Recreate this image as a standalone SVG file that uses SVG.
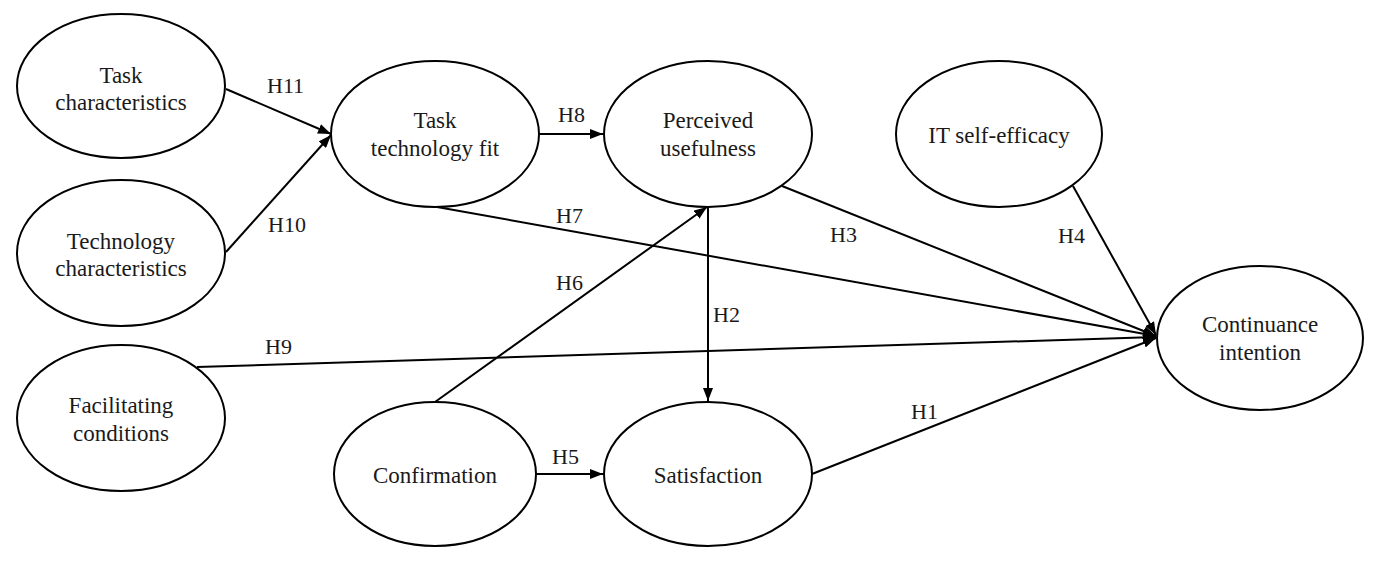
<svg xmlns="http://www.w3.org/2000/svg" width="1375" height="562" viewBox="0 0 1375 562">
<defs>
<marker id="arr" markerUnits="userSpaceOnUse" markerWidth="14" markerHeight="10" refX="13" refY="5" orient="auto">
<path d="M0,0 L13,5 L0,10 z" fill="#000"/>
</marker>
<style>
.n ellipse{fill:none;stroke:#000;stroke-width:2}
.n text{font-family:"Liberation Serif","Times New Roman",serif;font-size:23px;fill:#1a1a1a;text-anchor:middle}
.lbl{font-family:"Liberation Serif","Times New Roman",serif;font-size:22px;fill:#1a1a1a}
#edges line{stroke:#000;stroke-width:2;fill:none}
.a{marker-end:url(#arr)}
</style>
</defs>
<rect width="1375" height="562" fill="#fff"/>
<g id="edges">
<line class="a" x1="226" y1="89" x2="331" y2="134"/>
<line class="a" x1="226" y1="252" x2="331" y2="135"/>
<line class="a" x1="539" y1="134" x2="603" y2="134"/>
<line class="a" x1="437" y1="207" x2="1156" y2="336"/>
<line class="a" x1="782" y1="186" x2="1156" y2="336"/>
<line class="a" x1="1073" y1="186" x2="1156" y2="335"/>
<line class="a" x1="197" y1="367" x2="1156" y2="337"/>
<line class="a" x1="812" y1="474" x2="1156" y2="338"/>
<line class="a" x1="435" y1="402" x2="707" y2="207"/>
<line class="a" x1="708" y1="207" x2="708" y2="401"/>
<line class="a" x1="535" y1="474" x2="603" y2="474"/>
<text class="lbl" x="267" y="93">H11</text>
<text class="lbl" x="268" y="232">H10</text>
<text class="lbl" x="558" y="122">H8</text>
<text class="lbl" x="556" y="223">H7</text>
<text class="lbl" x="830" y="242">H3</text>
<text class="lbl" x="1058" y="243">H4</text>
<text class="lbl" x="556" y="290">H6</text>
<text class="lbl" x="713" y="322">H2</text>
<text class="lbl" x="265" y="354">H9</text>
<text class="lbl" x="552" y="464">H5</text>
<text class="lbl" x="911" y="419">H1</text>
</g>
<g id="task_char" class="n"><ellipse cx="121" cy="86" rx="104" ry="72"/><text x="121" y="83">Task</text><text x="121" y="110">characteristics</text></g>
<g id="tech_char" class="n"><ellipse cx="121" cy="253" rx="104" ry="73"/><text x="121" y="249">Technology</text><text x="121" y="276">characteristics</text></g>
<g id="fac_cond" class="n"><ellipse cx="121" cy="418" rx="104" ry="73"/><text x="121" y="413">Facilitating</text><text x="121" y="441">conditions</text></g>
<g id="ttf" class="n"><ellipse cx="435" cy="134" rx="104" ry="73"/><text x="435" y="128">Task</text><text x="435" y="156">technology fit</text></g>
<g id="pu" class="n"><ellipse cx="708" cy="134" rx="104" ry="73"/><text x="708" y="128">Perceived</text><text x="708" y="156">usefulness</text></g>
<g id="it_se" class="n"><ellipse cx="999" cy="134" rx="103" ry="73"/><text x="999" y="143">IT self-efficacy</text></g>
<g id="ci" class="n"><ellipse cx="1260" cy="338" rx="103" ry="72"/><text x="1260" y="332">Continuance</text><text x="1260" y="360">intention</text></g>
<g id="conf" class="n"><ellipse cx="435" cy="474" rx="101" ry="72"/><text x="435" y="483">Confirmation</text></g>
<g id="sat" class="n"><ellipse cx="708" cy="474" rx="104" ry="72"/><text x="708" y="483">Satisfaction</text></g>
</svg>
